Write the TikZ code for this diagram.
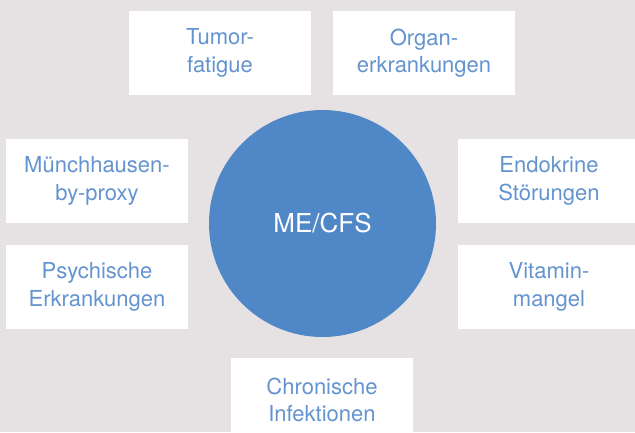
\documentclass[tikz,border=0pt]{standalone}
\usepackage{fontspec}
\setmainfont{TeX Gyre Heros}
\definecolor{bg}{HTML}{E6E2E3}
\definecolor{circ}{HTML}{4F87C7}
\definecolor{txt}{HTML}{6494D0}
\begin{document}
\begin{tikzpicture}[x=1pt,y=-1pt,
  box/.style={fill=white,draw=none,minimum width=182pt,minimum height=84pt,inner sep=0pt,
    align=center,text=txt,font=\fontsize{22}{27.5}\selectfont},
  hub/.style={circle,fill=circ,draw=none,minimum size=227pt,inner sep=0pt,
    text=white,font=\fontsize{26}{30}\selectfont}]
\useasboundingbox (0,0) rectangle (635,432);
\fill[bg] (0,0) rectangle (635,432);
\clip (0,0) rectangle (635,432);
\node[hub] (me) at (322.5,223.5) {ME/CFS};
\node[box] (tumor) at (220,53) {Tumor-\\fatigue};
\node[box] (organ) at (424,53) {Organ-\\erkrankungen};
\node[box] (mbp) at (97,181) {Münchhausen-\\by-proxy};
\node[box] (psych) at (97,287) {Psychische\\Erkrankungen};
\node[box] (endo) at (549,181) {Endokrine\\Störungen};
\node[box] (vit) at (549,287) {Vitamin-\\mangel};
\node[box] (chron) at (322,400) {Chronische\\Infektionen};
\end{tikzpicture}
\end{document}
